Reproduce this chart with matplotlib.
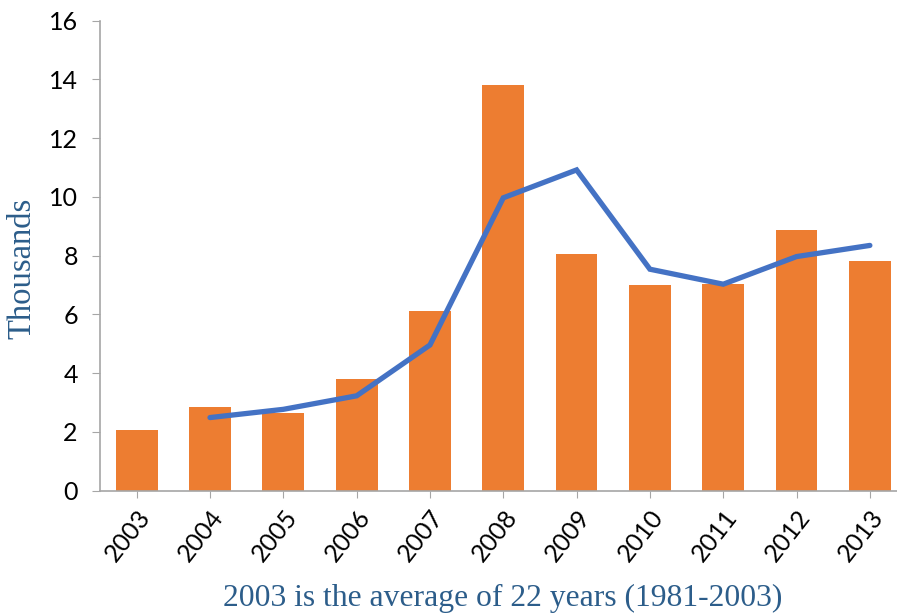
import matplotlib.pyplot as plt

years = ['2003', '2004', '2005', '2006', '2007', '2008', '2009', '2010', '2011', '2012', '2013']
bar_vals = [2.07, 2.86, 2.66, 3.79, 6.12, 13.80, 8.06, 6.99, 7.03, 8.87, 7.82]
# line starts at 2004
line_years = years[1:]
line_vals = [2.49, 2.77, 3.23, 4.96, 9.97, 10.92, 7.54, 7.03, 7.97, 8.35]

fig = plt.figure(figsize=(8.97, 6.14), dpi=100)
ax = fig.add_axes([0.1115, 0.2008, 0.8885, 0.7655])

x = list(range(len(years)))
ax.bar(x, bar_vals, width=0.57, color='#ED7D31', zorder=2)
lx = [years.index(y) for y in line_years]
ax.plot(lx, line_vals, color='#4472C4', lw=3.8, solid_capstyle='round',
        solid_joinstyle='miter', zorder=3)

ax.set_xlim(-0.5, 10.37)
ax.set_ylim(0, 16)
ax.set_yticks(range(0, 17, 2))
ax.set_xticks(x)
ax.set_xticklabels(years, rotation=52, ha='right', va='top', rotation_mode='anchor',
                   fontfamily='Lato', fontsize=18)
for lab in ax.get_yticklabels():
    lab.set_fontfamily('Lato')
    lab.set_fontsize(18)

for s in ['top', 'right']:
    ax.spines[s].set_visible(False)
for s in ['left', 'bottom']:
    ax.spines[s].set_color('#A6A6A6')
    ax.spines[s].set_linewidth(1.2)
ax.tick_params(axis='y', length=6, color='#A6A6A6', pad=10)
ax.tick_params(axis='x', length=5, color='#A6A6A6', pad=6)

txt_color = '#2C5D8A'
ax.set_ylabel('Thousands', fontfamily='Liberation Serif', fontsize=23.5, color=txt_color)
ax.yaxis.set_label_coords(-0.078, 0.474)
fig.text(0.56, 0.026, '2003 is the average of 22 years (1981-2003)',
         fontfamily='Liberation Serif', fontsize=22.8, color=txt_color, ha='center', va='center')

fig.savefig('out.png', dpi=100)
